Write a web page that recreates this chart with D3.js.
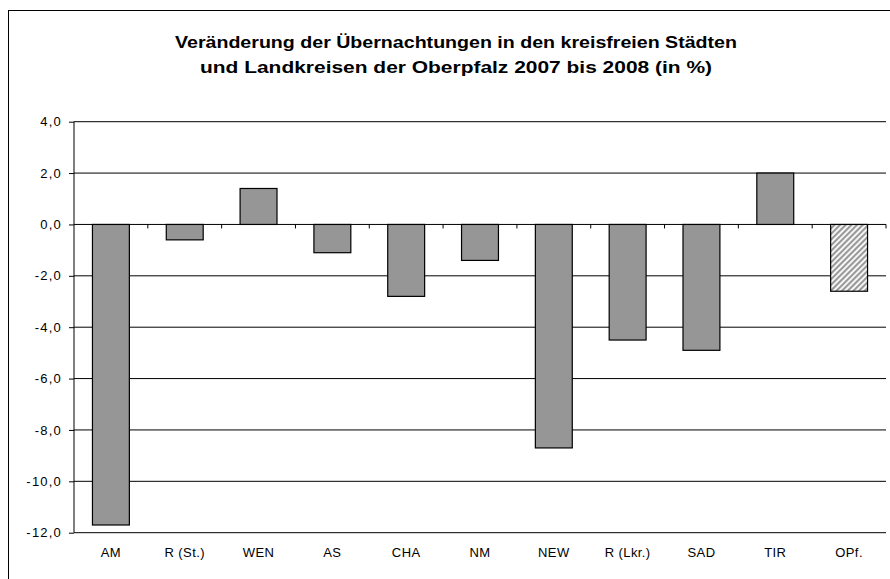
<!DOCTYPE html>
<html lang="de">
<head>
    <meta charset="UTF-8">
    <title>Übernachtungen Oberpfalz</title>
    <script src="https://cdn.jsdelivr.net/npm/d3@7"></script>
</head>
<style>
    body { margin: 0; background: #fff; }
    text { font-family: Arial, "Liberation Sans", sans-serif; fill: #000; }
    .title { font-size: 17px; font-weight: bold; text-anchor: middle; }
    .axis text { font-size: 13px; }
    .grid line { stroke: #000; stroke-width: 1; }
</style>
<body>
<script>
    var width = 890;
    var height = 579;

    // Daten
    var categories = ['AM', 'R (St.)', 'WEN', 'AS', 'CHA', 'NM', 'NEW', 'R (Lkr.)', 'SAD', 'TIR', 'OPf.'];
    var values = [-11.7, -0.6, 1.4, -1.1, -2.8, -1.4, -8.7, -4.5, -4.9, 2.0, -2.6];
    var yTicks = [4, 2, 0, -2, -4, -6, -8, -10, -12];
    var titleLines = ['Veränderung der Übernachtungen in den kreisfreien Städten',
        'und Landkreisen der Oberpfalz 2007 bis 2008 (in %)'];
    var titleWidths = [562, 512];

    var plot = {left: 74, right: 886, top: 121.7, bottom: 532.7};

    var svg = d3.select('body')
        .append('svg')
        .attr('width', width)
        .attr('height', height);

    // Schraffur für Oberpfalz gesamt
    var defs = svg.append('defs');
    var pat = defs.append('pattern')
        .attr('id', 'hatch')
        .attr('patternUnits', 'userSpaceOnUse')
        .attr('width', 4)
        .attr('height', 4)
        .attr('patternTransform', 'rotate(45)');
    pat.append('rect').attr('width', 4).attr('height', 4).attr('fill', '#fff');
    pat.append('rect').attr('width', 2.2).attr('height', 4).attr('fill', '#999');

    // Rahmen
    svg.append('rect')
        .attr('x', 8.5)
        .attr('y', 10.5)
        .attr('width', 900)
        .attr('height', 600)
        .attr('fill', 'none')
        .attr('stroke', '#000')
        .attr('stroke-width', 1);

    svg.selectAll('.title')
        .data(titleLines)
        .enter()
        .append('text')
        .attr('class', 'title')
        .attr('x', 456)
        .attr('y', function (d, i) { return 48 + i * 25; })
        .attr('textLength', function (d, i) { return titleWidths[i]; })
        .attr('lengthAdjust', 'spacingAndGlyphs')
        .text(function (d) { return d; });

    var xScale = d3.scaleBand()
        .domain(categories)
        .range([plot.left, plot.right])
        .paddingInner(0.5)
        .paddingOuter(0.25);

    var bandX = d3.scaleBand()
        .domain(categories)
        .range([plot.left, plot.right]);

    var yScale = d3.scaleLinear()
        .domain([-12, 4])
        .range([plot.bottom, plot.top]);

    // Gitterlinien
    svg.append('g')
        .attr('class', 'grid')
        .selectAll('line')
        .data(yTicks)
        .enter()
        .append('line')
        .attr('x1', plot.left)
        .attr('x2', plot.right)
        .attr('y1', function (d) { return yScale(d); })
        .attr('y2', function (d) { return yScale(d); });

    // Balken
    svg.selectAll('.bar')
        .data(values)
        .enter()
        .append('rect')
        .attr('class', 'bar')
        .attr('x', function (d, i) { return xScale(categories[i]); })
        .attr('width', xScale.bandwidth())
        .attr('y', function (d) { return yScale(Math.max(0, d)); })
        .attr('height', function (d) { return Math.abs(yScale(d) - yScale(0)); })
        .attr('fill', function (d, i) { return i === categories.length - 1 ? 'url(#hatch)' : '#969696'; })
        .attr('stroke', '#000')
        .attr('stroke-width', 1.2);

    // y-Achse
    var yAxis = d3.axisLeft(yScale)
        .tickValues(yTicks)
        .tickSize(5)
        .tickPadding(7)
        .tickFormat(function (d) { return d3.format('.1f')(d).replace('.', ',').replace('−', '-'); });

    var gy = svg.append('g')
        .attr('class', 'axis')
        .attr('transform', 'translate(' + plot.left + ',0)')
        .call(yAxis);
    gy.select('.domain').attr('stroke', '#000').attr('d', 'M0,' + plot.top + 'V' + plot.bottom);
    gy.selectAll('text').style('letter-spacing', '1.2px');

    // x-Achse an der Nulllinie
    var xAxis = d3.axisBottom(bandX)
        .tickSize(4)
        .tickFormat('');

    var gx = svg.append('g')
        .attr('transform', 'translate(0,' + yScale(0) + ')')
        .call(xAxis);
    gx.select('.domain').remove();
    gx.selectAll('.tick')
        .attr('transform', function (d) { return 'translate(' + (bandX(d) + bandX.bandwidth()) + ',0)'; });
    gx.selectAll('.tick line').attr('stroke', '#000');

    svg.append('g')
        .attr('class', 'axis')
        .selectAll('text')
        .data(categories)
        .enter()
        .append('text')
        .attr('x', function (d) { return bandX(d) + bandX.bandwidth() / 2; })
        .attr('y', 557)
        .attr('text-anchor', 'middle')
        .style('letter-spacing', '0.4px')
        .text(function (d) { return d; });
</script>
</body>
</html>
